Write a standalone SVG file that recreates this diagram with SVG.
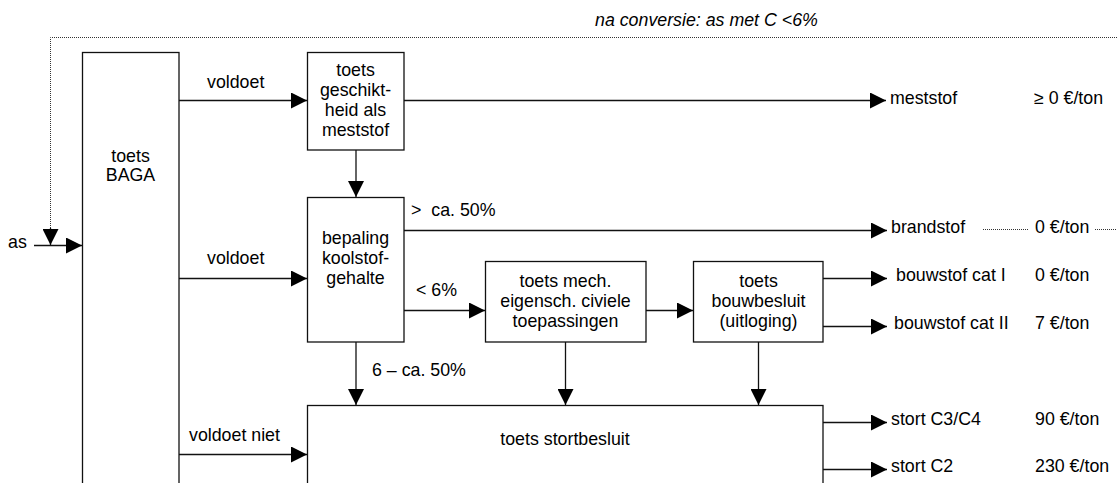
<svg xmlns="http://www.w3.org/2000/svg" width="1117" height="483" viewBox="0 0 1117 483">
<defs>
<marker id="ah" markerUnits="userSpaceOnUse" markerWidth="17" markerHeight="16" refX="16" refY="8" orient="auto">
<path d="M0,0 L16,8 L0,16 Z" fill="#000"/>
</marker>
<style>
text{font-family:"Liberation Sans",Arial,sans-serif;font-size:17.8px;fill:#000}
.c{text-anchor:middle}
.i{font-style:italic}
.box{fill:#fff;stroke:#111;stroke-width:1.3}
.ln{fill:none;stroke:#111;stroke-width:1.3}
.dot{fill:none;stroke:#333;stroke-width:1;stroke-dasharray:1 1}
</style>
</defs>
<rect width="1117" height="483" fill="#fff"/>

<g id="connectors">
<path class="dot" d="M1117,37.5 H50.5 V230"/>
<path class="ln" d="M50.5,228 V245" marker-end="url(#ah)"/>
<path class="ln" d="M34,245.5 H82" marker-end="url(#ah)"/>
<path class="ln" d="M179,100.5 H307" marker-end="url(#ah)"/>
<path class="ln" d="M179,278.5 H307" marker-end="url(#ah)"/>
<path class="ln" d="M179,454.5 H307" marker-end="url(#ah)"/>
<path class="ln" d="M404,100.5 H886" marker-end="url(#ah)"/>
<path class="ln" d="M356,150 V197" marker-end="url(#ah)"/>
<path class="ln" d="M404,230.5 H887" marker-end="url(#ah)"/>
<path class="ln" d="M404,310.5 H485" marker-end="url(#ah)"/>
<path class="ln" d="M646,310.5 H693" marker-end="url(#ah)"/>
<path class="ln" d="M823,278.5 H887" marker-end="url(#ah)"/>
<path class="ln" d="M823,326.5 H887" marker-end="url(#ah)"/>
<path class="ln" d="M356,342 V405" marker-end="url(#ah)"/>
<path class="ln" d="M565.5,342 V405" marker-end="url(#ah)"/>
<path class="ln" d="M758.5,342 V405" marker-end="url(#ah)"/>
<path class="ln" d="M823,422.5 H887" marker-end="url(#ah)"/>
<path class="ln" d="M823,469.5 H887" marker-end="url(#ah)"/>
<path class="dot" d="M983,229.5 H1028"/>
<path class="dot" d="M1095,229.5 H1117"/>
</g>

<g id="labels">
<text class="i" x="595" y="26">na conversie: as met C &lt;6%</text>
<text x="8" y="248">as</text>
<text x="207" y="88">voldoet</text>
<text x="207" y="264">voldoet</text>
<text x="189" y="441">voldoet niet</text>
<text x="411" y="216" style="white-space:pre" xml:space="preserve">&gt;  ca. 50%</text>
<text x="416" y="296">&lt; 6%</text>
<text x="372" y="376">6 – ca. 50%</text>
<text x="890" y="104">meststof</text>
<text x="1034" y="104">≥ 0 €/ton</text>
<text x="891" y="233">brandstof</text>
<text x="1035" y="233">0 €/ton</text>
<text x="896" y="281">bouwstof cat I</text>
<text x="1035" y="281">0 €/ton</text>
<text x="894" y="329">bouwstof cat II</text>
<text x="1035" y="329">7 €/ton</text>
<text x="891" y="425">stort C3/C4</text>
<text x="1035" y="425">90 €/ton</text>
<text x="891" y="472">stort C2</text>
<text x="1035" y="472">230 €/ton</text>
</g>

<g id="baga">
<rect class="box" x="82.5" y="52.5" width="96.5" height="440"/>
<text class="c" x="130.5" y="162">toets</text>
<text class="c" x="130.5" y="181">BAGA</text>
</g>

<g id="geschiktheid">
<rect class="box" x="307.5" y="52.5" width="96.5" height="97.5"/>
<text class="c" x="355.5" y="76">toets</text>
<text class="c" x="355.5" y="96">geschikt-</text>
<text class="c" x="355.5" y="116">heid als</text>
<text class="c" x="355.5" y="136">meststof</text>
</g>

<g id="bepaling">
<rect class="box" x="307.5" y="197.5" width="96.5" height="144.5"/>
<text class="c" x="355.5" y="244">bepaling</text>
<text class="c" x="355.5" y="264">koolstof-</text>
<text class="c" x="355.5" y="284">gehalte</text>
</g>

<g id="mech">
<rect class="box" x="485.5" y="261.5" width="160.5" height="80.5"/>
<text class="c" x="565.5" y="287">toets mech.</text>
<text class="c" x="565.5" y="307">eigensch. civiele</text>
<text class="c" x="565.5" y="327">toepassingen</text>
</g>

<g id="bouwbesluit">
<rect class="box" x="693.5" y="261.5" width="129.5" height="80.5"/>
<text class="c" x="758.5" y="287">toets</text>
<text class="c" x="758.5" y="307">bouwbesluit</text>
<text class="c" x="758.5" y="327">(uitloging)</text>
</g>

<g id="stortbesluit">
<rect class="box" x="307.5" y="405.5" width="515.5" height="100"/>
<text class="c" x="565" y="445">toets stortbesluit</text>
</g>
</svg>
